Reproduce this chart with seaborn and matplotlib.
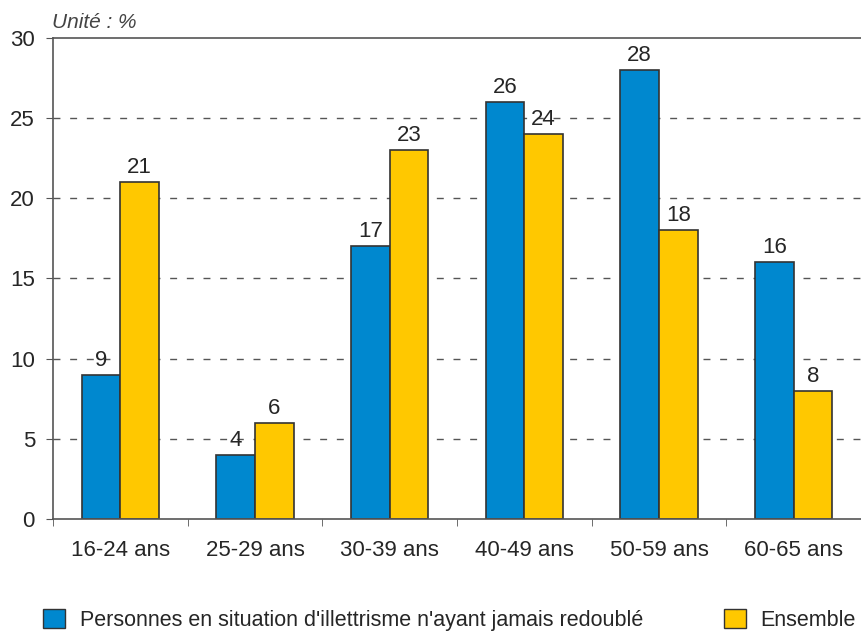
import pandas as pd
import numpy as np
import matplotlib.pyplot as plt
import seaborn as sns
from matplotlib.patches import Patch

# data
ages = ['16-24 ans', '25-29 ans', '30-39 ans', '40-49 ans', '50-59 ans', '60-65 ans']
illettrisme = [9, 4, 17, 26, 28, 16]
ensemble = [21, 6, 23, 24, 18, 8]
serie_names = ["Personnes en situation d'illettrisme n'ayant jamais redoublé", 'Ensemble']
colors = ['#0088cf', '#ffc800']

df = pd.DataFrame({
    'age': ages * 2,
    'valeur': illettrisme + ensemble,
    'serie': [serie_names[0]] * len(ages) + [serie_names[1]] * len(ages),
})

sns.set_style('white')
plt.rcParams['font.family'] = ['Liberation Sans', 'DejaVu Sans']

fig = plt.figure(figsize=(8.61, 6.31), dpi=100)
ax = fig.add_axes([0.0616, 0.1775, 0.9384, 0.7623])

sns.barplot(data=df, x='age', y='valeur', hue='serie', palette=colors, saturation=1,
            width=0.575, edgecolor='#333333', linewidth=1.2, legend=False, ax=ax)

for c in ax.containers:
    ax.bar_label(c, fmt='%d', padding=3, fontsize=16)

ax.set_xlim(-0.5, 5.5)
ax.set_ylim(0, 30)
ax.set_yticks([0, 5, 10, 15, 20, 25, 30])
for y in [5, 10, 15, 20, 25]:
    ax.axhline(y, color='#555555', linestyle=(0, (5, 7)), linewidth=1, zorder=0)

ax.set_xticks(range(len(ages)))
ax.set_xticklabels(ages)
ax.set_xticks(np.arange(-0.5, 5.6, 1), minor=True)
ax.tick_params(axis='x', which='major', length=0, pad=15, labelsize=16)
ax.tick_params(axis='x', which='minor', length=5, direction='out', color='#555555', bottom=True)
ax.tick_params(axis='y', length=5, direction='out', color='#555555', left=True, labelsize=16, pad=8)
ax.set_xlabel('')
ax.set_ylabel('')

for s in ['left', 'bottom', 'top']:
    ax.spines[s].set_color('#555555')
    ax.spines[s].set_linewidth(1.2)
ax.spines['right'].set_visible(False)

fig.text(0.0604, 0.955, 'Unité : %', style='italic', fontsize=15, color='#444444')

handles = [Patch(facecolor=colors[i], edgecolor='#333333', label=serie_names[i]) for i in range(2)]
fig.legend(handles=handles, loc='lower left', bbox_to_anchor=(0.028, -0.03), ncol=2,
           frameon=False, fontsize=15.5, handlelength=1.0, handleheight=1.0,
           handletextpad=0.7, columnspacing=3.75)

plt.savefig('out.png', dpi=100)
